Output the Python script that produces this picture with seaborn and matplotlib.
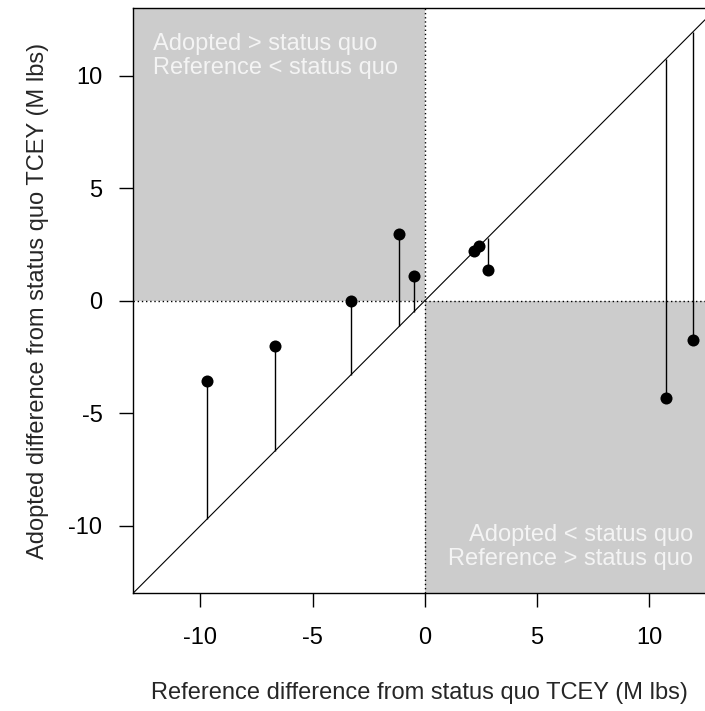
import matplotlib
matplotlib.use("Agg")
import matplotlib.pyplot as plt
import seaborn as sns
import pandas as pd

# Data
ref_diff = [-9.70, -6.68, -3.30, -1.14, -0.48, 2.19, 2.44, 2.81, 10.76, 11.95]
adopted_diff = [-3.56, -2.00, 0.00, 2.96, 1.11, 2.22, 2.44, 1.36, -4.30, -1.73]
x_ticks = [-10, -5, 0, 5, 10]
y_ticks = [-10, -5, 0, 5, 10]
x_label = "Reference difference from status quo TCEY (M lbs)"
y_label = "Adopted difference from status quo TCEY (M lbs)"
note_top_left = "Adopted > status quo\nReference < status quo"
note_bottom_right = "Adopted < status quo\nReference > status quo"

df = pd.DataFrame({"ref": ref_diff, "adopted": adopted_diff})

sns.set_style("white")
plt.rcParams["font.family"] = ["Liberation Sans", "DejaVu Sans"]
plt.rcParams["axes.unicode_minus"] = False

fig = plt.figure(figsize=(7.05, 7.11), dpi=100)
ax = fig.add_axes([133 / 705, 1 - 593.3 / 711, 1 - 133 / 705, (593.3 - 8.3) / 711])

XL, XR, YB, YT = -13, 12.49, -13, 13
ax.set_xlim(XL, XR)
ax.set_ylim(YB, YT)

shade = "#CCCCCC"
ax.fill_between([XL, 0], 0, YT, color=shade, lw=0, zorder=0)
ax.fill_between([0, 14], YB, 0, color=shade, lw=0, zorder=0)

ax.axvline(0, color="black", ls=(0, (1, 2)), lw=1.0, zorder=1)
ax.axhline(0, color="black", ls=(0, (1, 2)), lw=1.0, zorder=1)
ax.axline((0, 0), slope=1, color="black", lw=0.8, zorder=2)

ax.vlines(df["ref"], df["ref"], df["adopted"], color="black", lw=1.0, zorder=3)
sns.scatterplot(data=df, x="ref", y="adopted", ax=ax, color="black",
                s=75, edgecolor="black", linewidth=0, zorder=4)

txt_color = "#F4F4F4"
ax.text(-12.1, 11.9, note_top_left, ha="left", va="top", fontsize=17,
        color=txt_color, linespacing=1.14, zorder=5)
ax.text(11.95, -9.92, note_bottom_right, ha="right", va="top", fontsize=17,
        color=txt_color, linespacing=1.14, zorder=5)

ax.set_xticks(x_ticks)
ax.set_yticks(y_ticks)
ax.tick_params(axis="both", direction="out", length=10, width=1.0,
               color="black", labelsize=17, labelcolor="black",
               bottom=True, left=True)
ax.tick_params(axis="x", pad=14)
ax.tick_params(axis="y", pad=12)

for side in ["left", "bottom", "top"]:
    ax.spines[side].set_visible(True)
    ax.spines[side].set_color("black")
    ax.spines[side].set_linewidth(1.0)
ax.spines["right"].set_visible(False)

ax.set_xlabel(x_label, fontsize=17, va="center")
ax.set_ylabel(y_label, fontsize=17, va="center")
ax.xaxis.set_label_coords(0.5, -(693 - 593.3) / 585)
ax.yaxis.set_label_coords(-(133 - 38) / 572, 0.5)

fig.savefig("out.png", dpi=100)
